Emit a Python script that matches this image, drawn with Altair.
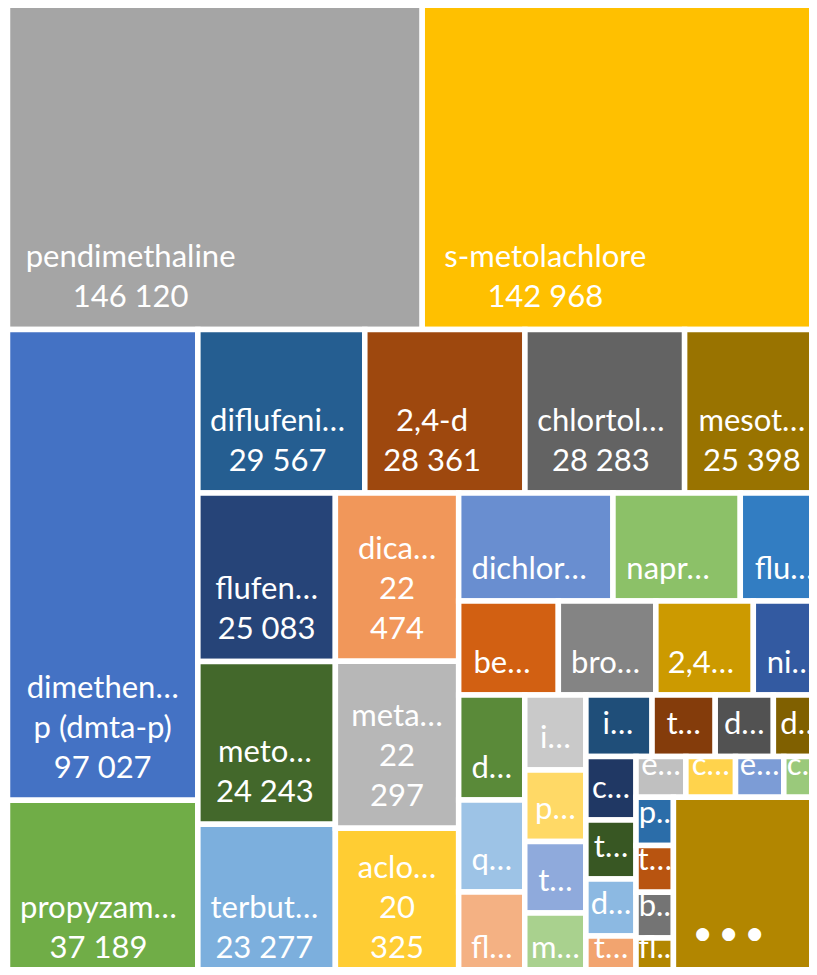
import colorsys
import altair as alt
import pandas as pd

# ---------------- data ----------------
# tile labels exactly as displayed (Excel truncates long names with "…")
names = [
    "pendimethaline", "s-metolachlore", "dimethen…\np (dmta-p)", "propyzam…",
    "diflufeni…", "2,4-d", "chlortol…", "mesot…",
    "flufen…", "meto…", "terbut…", "dica…", "meta…", "aclo…",
    "dichlor…", "napr…", "flu…",
    "be…", "bro…", "2,4…", "ni…",
    "d…", "q…", "fl…",
    "i…", "p…", "t…", "m…",
    "i…", "t…", "d…", "d…",
    "c…", "t…", "d…", "t…",
    "e…", "c…", "e…", "c…",
    "p..", "t…", "b..", "fl..",
    "…",
]
# sizes (labelled ones read, the others estimated from the tile areas)
values = [
    146120, 142968, 97027, 37189,
    29567, 28361, 28283, 25398,
    25083, 24243, 23277, 22474, 22297, 20325,
    18047, 14893, 10261,
    10145, 9930, 9920, 7604,
    7513, 6583, 6332,
    4967, 4740, 4730, 4471,
    4407, 4207, 3873, 3639,
    3447, 3203, 3094, 2416,
    2200, 2190, 2130, 1950,
    1950, 1900, 1850, 1720,
    30677,
]
# how the value is printed under the name
value_display = ["line"] * 11 + ["split"] * 3 + ["none"] * 31

# ---------------- layout / style constants ----------------
FRAME = (7.5, 4.25, 828.0, 980.5)      # treemap frame (reference pixels)
VIEW_X = (8, 809)                       # visible window of the cropped picture
VIEW_Y = (8, 967)
GAP = 5.5
PAD = 10
BOX_K = 0.69
BASE_OFF = 19.5
LINE = 40
EM = 33
FONT_SIZE = 31


def excel_squarify(vals, x0, y0, x1, y1):
    """Squarified strips; the last value is the aggregated remainder."""
    n = len(vals)
    real = n - 1
    rects = [None] * n
    i = 0
    while i < real:
        w, h = x1 - x0, y1 - y0
        scale = w * h / sum(vals[i:])
        row_mode = w <= h
        side = w if row_mode else h

        def last_aspect(j):
            s = sum(vals[i:j])
            thick = s * scale / side
            length = vals[j - 1] * scale / thick
            return max(length / thick, thick / length)

        j = i + 1
        cur = last_aspect(j)
        while j < real:
            nxt = last_aspect(j + 1)
            if nxt > cur:
                break
            cur = nxt
            j += 1
        s = sum(vals[i:j])
        thick = s * scale / side
        pos = x0 if row_mode else y0
        for k in range(i, j):
            length = vals[k] * scale / thick
            if row_mode:
                rects[k] = (pos, y0, pos + length, y0 + thick)
            else:
                rects[k] = (x0, pos, x0 + thick, pos + length)
            pos += length
        if row_mode:
            y0 += thick
        else:
            x0 += thick
        i = j
    rects[real] = (x0, y0, x1, y1)
    return rects


ACCENTS = ["#5B9BD5", "#ED7D31", "#A5A5A5", "#FFC000", "#4472C4", "#70AD47"]
SHADES = [(1.0, 0.0), (0.6, 0.0), (0.8, 0.2), (0.8, 0.0), (0.6, 0.4),
          (0.5, 0.0), (0.7, 0.3), (0.7, 0.0), (0.5, 0.5)]


def office_color(i):
    base = ACCENTS[i % 6]
    mod, off = SHADES[(i // 6) % len(SHADES)]
    r, g, b = (int(base[k:k + 2], 16) / 255 for k in (1, 3, 5))
    h, l, s = colorsys.rgb_to_hls(r, g, b)
    l = min(1.0, l * mod + off)
    r, g, b = colorsys.hls_to_rgb(h, l, s)
    return "#%02X%02X%02X" % tuple(round(c * 255) for c in (r, g, b))


FIRST_COLOR = 2  # palette slots 0 and 1 belong to larger tiles cropped off on the left
colors = [office_color(FIRST_COLOR + k) for k in range(len(values) - 1)]
colors.append(colors[-1])

CALIBRI = {
    "a": .479, "b": .525, "c": .423, "d": .525, "e": .498, "f": .305, "g": .471,
    "h": .525, "i": .229, "j": .239, "k": .455, "l": .229, "m": .799, "n": .525,
    "o": .527, "p": .525, "q": .525, "r": .349, "s": .391, "t": .335, "u": .525,
    "v": .452, "w": .715, "x": .433, "y": .453, "z": .395, " ": .226, "(": .303,
    ")": .303, "-": .306, ",": .250, ".": .252, "…": .688,
}


def text_w(s):
    return sum(CALIBRI.get(c, .507) for c in s) * EM


rects = excel_squarify(values, *FRAME)

tiles = pd.DataFrame({
    "name": names,
    "value": values,
    "x0": [r[0] for r in rects],
    "y0": [r[1] for r in rects],
    "x1": [r[2] for r in rects],
    "y1": [r[3] for r in rects],
    "color": colors,
})

rows = []
for k in range(len(values) - 1):
    x0, y0, x1, y1 = rects[k]
    tx0, tx1, ty0, ty1 = x0 + GAP / 2, x1 - GAP / 2, y0 + GAP / 2, y1 - GAP / 2
    lines = names[k].split("\n")
    vs = f"{values[k]:,}".replace(",", " ")
    if value_display[k] == "line":
        lines.append(vs)
    elif value_display[k] == "split":
        lines += vs.split(" ")
    tw, th = tx1 - tx0, ty1 - ty0
    maxw = max(text_w(s) for s in lines)
    box = min(tw - 2 * PAD, max(maxw, BOX_K * th))
    cx = tx0 + PAD + box / 2
    n = len(lines)
    for i, s in enumerate(lines):
        rows.append({"x": cx, "y": ty1 - BASE_OFF - (n - 1 - i) * LINE, "text": s})
labels_df = pd.DataFrame(rows)

# the "…" remainder block shows three dots
rx0, ry0, rx1, ry1 = rects[-1]
dots_df = pd.DataFrame({
    "x": [rx0 + GAP / 2 + 26.5 + 26 * i for i in range(3)],
    "y": [ry1 - GAP / 2 - 44] * 3,
    "text": ["●"] * 3,
})

xs = alt.Scale(domain=list(VIEW_X), nice=False, zero=False)
ys = alt.Scale(domain=list(VIEW_Y), nice=False, zero=False, reverse=True)

rect_layer = alt.Chart(tiles).mark_rect(
    stroke="white", strokeWidth=GAP, clip=True
).encode(
    x=alt.X("x0:Q", scale=xs, axis=None),
    x2="x1:Q",
    y=alt.Y("y0:Q", scale=ys, axis=None),
    y2="y1:Q",
    color=alt.Color("color:N", scale=None),
    tooltip=["name:N", "value:Q"],
)

text_layer = alt.Chart(labels_df).mark_text(
    font="Lato", fontSize=FONT_SIZE, color="white", align="center",
    baseline="alphabetic", clip=True
).encode(
    x=alt.X("x:Q", scale=xs, axis=None),
    y=alt.Y("y:Q", scale=ys, axis=None),
    text="text:N",
)

dots_layer = alt.Chart(dots_df).mark_text(
    font="DejaVu Sans", fontSize=17, color="white", align="center",
    baseline="middle", clip=True
).encode(
    x=alt.X("x:Q", scale=xs, axis=None),
    y=alt.Y("y:Q", scale=ys, axis=None),
    text="text:N",
)

chart = alt.layer(rect_layer, text_layer, dots_layer).properties(
    width=VIEW_X[1] - VIEW_X[0],
    height=VIEW_Y[1] - VIEW_Y[0],
    padding=0,
).configure_view(stroke=None)

chart.save("out.html", embed_options={"renderer": "svg", "actions": False})
